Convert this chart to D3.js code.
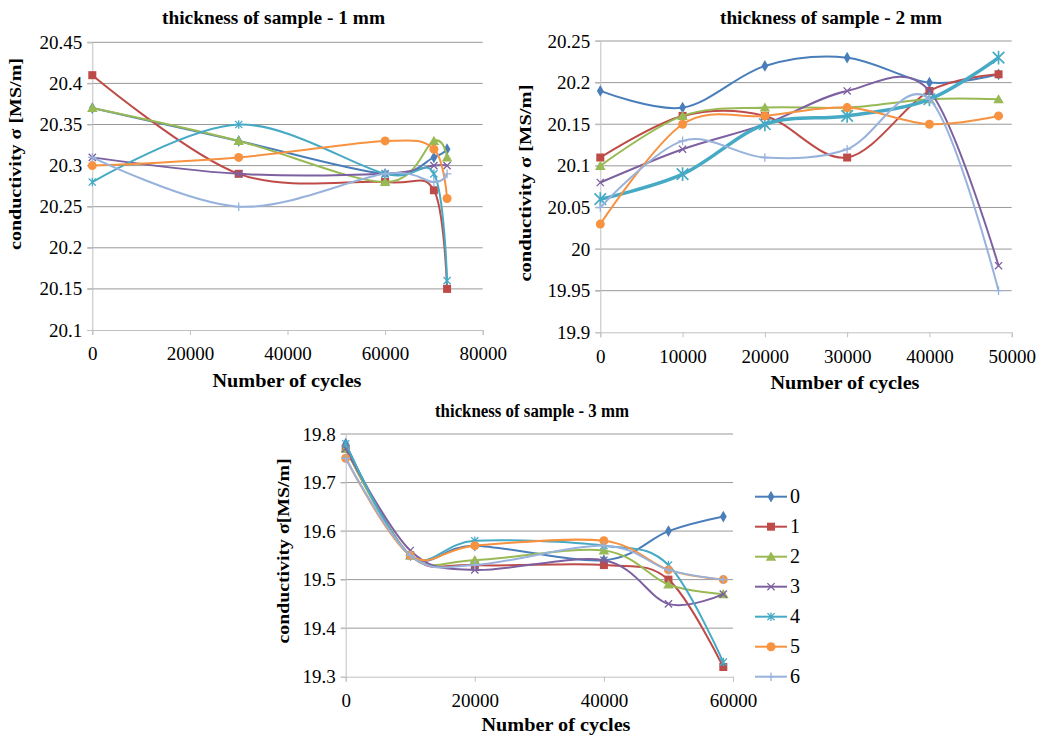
<!DOCTYPE html>
<html>
<head>
<meta charset="utf-8">
<script src="https://cdn.jsdelivr.net/npm/d3@7"></script>
<style>
  body { margin: 0; background: #fff; }
  svg { display: block; }
</style>
</head>
<body>
<svg id="chart" width="1043" height="736"></svg>
<script>
// ---------- data ----------
const seriesNames = ["0", "1", "2", "3", "4", "5", "6"];
const seriesColors = ["#4A7EBB", "#BE4B48", "#98B954", "#7D60A0", "#46AAC5", "#F69240", "#98B2DC"];
const seriesMarkers = ["diamond", "square", "triangle", "x", "star", "circle", "plus"];

// panel 1: thickness 1 mm
const cycles1 = [0, 30000, 60000, 70000, 72700];
const values1 = [
  [20.37, 20.33, 20.29, 20.31, 20.32],
  [20.41, 20.29, 20.28, 20.27, 20.15],
  [20.37, 20.33, 20.28, 20.33, 20.31],
  [20.31, 20.29, 20.29, 20.30, 20.30],
  [20.28, 20.35, 20.29, 20.29, 20.16],
  [20.30, 20.31, 20.33, 20.32, 20.26],
  [20.31, 20.25, 20.29, 20.28, 20.29]
];
const yTicks1 = [20.1, 20.15, 20.2, 20.25, 20.3, 20.35, 20.4, 20.45];
const xTicks1 = [0, 20000, 40000, 60000, 80000];

// panel 2: thickness 2 mm
const cycles2 = [0, 10000, 20000, 30000, 40000, 48400];
const values2 = [
  [20.19, 20.17, 20.22, 20.23, 20.20, 20.21],
  [20.11, 20.16, 20.16, 20.11, 20.19, 20.21],
  [20.10, 20.16, 20.17, 20.17, 20.18, 20.18],
  [20.08, 20.12, 20.15, 20.19, 20.19, 19.98],
  [20.06, 20.09, 20.15, 20.16, 20.18, 20.23],
  [20.03, 20.15, 20.16, 20.17, 20.15, 20.16],
  [20.05, 20.13, 20.11, 20.12, 20.18, 19.95]
];
const yTicks2 = [19.9, 19.95, 20, 20.05, 20.1, 20.15, 20.2, 20.25];
const xTicks2 = [0, 10000, 20000, 30000, 40000, 50000];

// panel 3: thickness 3 mm
const cycles3 = [0, 10000, 20000, 40000, 50000, 58500];
const values3 = [
  [19.78, 19.55, 19.57, 19.54, 19.60, 19.63],
  [19.77, 19.55, 19.53, 19.53, 19.50, 19.32],
  [19.77, 19.55, 19.54, 19.56, 19.49, 19.47],
  [19.77, 19.56, 19.52, 19.54, 19.45, 19.47],
  [19.78, 19.55, 19.58, 19.57, 19.53, 19.33],
  [19.75, 19.55, 19.57, 19.58, 19.52, 19.50],
  [19.75, 19.55, 19.53, 19.57, 19.52, 19.50]
];
const yTicks3 = [19.3, 19.4, 19.5, 19.6, 19.7, 19.8];
const xTicks3 = [0, 20000, 40000, 60000];

const titleText = ["thickness of sample - 1 mm", "thickness of sample - 2 mm", "thickness of sample - 3 mm"];
const xTitle = "Number of cycles";
const yTitles = ["conductivity σ [MS/m]", "conductivity σ [MS/m]", "conductivity σ[MS/m]"];

// ---------- drawing ----------
const FONT = '"Liberation Serif"';
const svg = d3.select("#chart");
const GRID = "#999999", AXIS = "#c0c0c0";

function marker(g, type, x, y, color, s) {
  s = s || 1;
  if (type === "diamond") {
    g.append("path").attr("d", d3.symbol(d3.symbolDiamond, 40 * s * s)())
      .attr("transform", `translate(${x},${y})`).attr("fill", color);
  } else if (type === "square") {
    const w = 8 * s;
    g.append("rect").attr("x", x - w / 2).attr("y", y - w / 2).attr("width", w).attr("height", w).attr("fill", color);
  } else if (type === "triangle") {
    g.append("path").attr("d", d3.symbol(d3.symbolTriangle, 48 * s * s)())
      .attr("transform", `translate(${x},${y + 1})`).attr("fill", color);
  } else if (type === "circle") {
    g.append("circle").attr("cx", x).attr("cy", y).attr("r", 4.5 * s).attr("fill", color);
  } else {
    const r = 3.6 * s;
    let d = "";
    if (type === "x" || type === "star") d += `M${x - r},${y - r}L${x + r},${y + r}M${x - r},${y + r}L${x + r},${y - r}`;
    if (type === "star") d += `M${x},${y - r * 1.2}L${x},${y + r * 1.2}`;
    if (type === "plus") d += `M${x - r * 1.2},${y}L${x + r * 1.2},${y}M${x},${y - r * 1.2}L${x},${y + r * 1.2}`;
    g.append("path").attr("d", d).attr("stroke", color).attr("stroke-width", 1.3 * Math.max(1, s * 0.8)).attr("fill", "none");
  }
}

function serif(sel, size) {
  return sel.attr("font-family", "Liberation Serif").style("font-family", FONT)
    .attr("font-size", size).style("font-size", size + "px");
}

function label(g, txt, x, y, size, len, rotate) {
  const t = g.append("text")
    .attr("transform", `translate(${x},${y})` + (rotate ? " rotate(-90)" : ""))
    .attr("text-anchor", "middle")
    .style("font-weight", "bold")
    .attr("fill", "#000")
    .attr("textLength", len).attr("lengthAdjust", "spacingAndGlyphs")
    .text(txt);
  serif(t, size);
  return t;
}

function panel(cfg) {
  const g = svg.append("g");
  const x = d3.scaleLinear().domain(cfg.xDomain).range([cfg.left, cfg.right]);
  const y = d3.scaleLinear().domain(cfg.yDomain).range([cfg.bottom, cfg.top]);

  // gridlines (extend left as tick marks)
  g.selectAll(".grid").data(cfg.yTicks.slice(1)).join("line")
    .attr("x1", cfg.left - 5).attr("x2", cfg.right)
    .attr("y1", d => y(d)).attr("y2", d => y(d))
    .attr("stroke", GRID).attr("stroke-width", 1);

  // y axis
  const yAxis = d3.axisLeft(y).tickValues(cfg.yTicks).tickSize(5).tickPadding(5)
    .tickFormat(d => String(+d.toFixed(2)));
  const ya = g.append("g").attr("transform", `translate(${cfg.left},0)`).call(yAxis);
  serif(ya, 19);
  ya.select(".domain").attr("stroke", AXIS).attr("fill", "none");
  ya.selectAll(".tick line").attr("stroke", AXIS);
  serif(ya.selectAll(".tick text"), 19).attr("fill", "#000");

  // x axis
  const xAxis = d3.axisBottom(x).tickValues(cfg.xTicks).tickSize(5).tickPadding(12).tickFormat(d3.format("d"));
  const xa = g.append("g").attr("transform", `translate(0,${cfg.bottom})`).call(xAxis);
  serif(xa, 19);
  xa.select(".domain").attr("stroke", AXIS).attr("fill", "none");
  xa.selectAll(".tick line").attr("stroke", AXIS);
  serif(xa.selectAll(".tick text"), 19).attr("fill", "#000");

  // series
  const line = d3.line().curve(d3.curveCardinal.tension(0)).x(d => x(d[0])).y(d => y(d[1]));
  cfg.values.forEach((vals, i) => {
    const pts = cfg.cycles.map((c, j) => [c, vals[j]]);
    const big = cfg.bigSeries === i;
    g.append("path").datum(pts).attr("d", line)
      .attr("fill", "none").attr("stroke", seriesColors[i]).attr("stroke-width", big ? 3.5 : 2);
    pts.forEach(p => marker(g, seriesMarkers[i], x(p[0]), y(p[1]), seriesColors[i], big ? 1.6 : 1));
  });

  // titles
  label(g, cfg.title, cfg.titleX, cfg.titleY, 18, cfg.titleLen, false);
  label(g, xTitle, cfg.xLabelX, cfg.xLabelY, 19, 149, false);
  label(g, cfg.yTitle, cfg.yLabelX, cfg.yLabelY, 17, cfg.yLabelLen, true);
}

panel({ xDomain: [0, 80000], yDomain: [20.1, 20.45], left: 92.3, right: 482.7, top: 42.3, bottom: 330,
  yTicks: yTicks1, xTicks: xTicks1, cycles: cycles1, values: values1, title: titleText[0], titleLen: 223,
  yTitle: yTitles[0], yLabelLen: 192,
  titleX: 273.5, titleY: 24, xLabelX: 287, xLabelY: 387, yLabelX: 21, yLabelY: 154 });

panel({ xDomain: [0, 50000], yDomain: [19.9, 20.25], left: 600.3, right: 1011.7, top: 41, bottom: 332.3,
  yTicks: yTicks2, xTicks: xTicks2, cycles: cycles2, values: values2, title: titleText[1], titleLen: 222, bigSeries: 4,
  yTitle: yTitles[1], yLabelLen: 197,
  titleX: 831, titleY: 23.5, xLabelX: 845, xLabelY: 389, yLabelX: 531, yLabelY: 183 });

panel({ xDomain: [0, 60000], yDomain: [19.3, 19.8], left: 345.7, right: 733, top: 434, bottom: 676.7,
  yTicks: yTicks3, xTicks: xTicks3, cycles: cycles3, values: values3, title: titleText[2], titleLen: 194,
  yTitle: yTitles[2], yLabelLen: 185,
  titleX: 532, titleY: 417, xLabelX: 556, xLabelY: 731, yLabelX: 289, yLabelY: 551 });

// legend
const lg = svg.append("g");
seriesNames.forEach((n, i) => {
  const yy = 496.7 + i * 30;
  lg.append("line").attr("x1", 755).attr("x2", 787).attr("y1", yy).attr("y2", yy)
    .attr("stroke", seriesColors[i]).attr("stroke-width", 2);
  marker(lg, seriesMarkers[i], 771, yy, seriesColors[i], 1);
  serif(lg.append("text").attr("x", 790).attr("y", yy + 6).attr("fill", "#000").text(n), 20);
});
</script>
</body>
</html>
